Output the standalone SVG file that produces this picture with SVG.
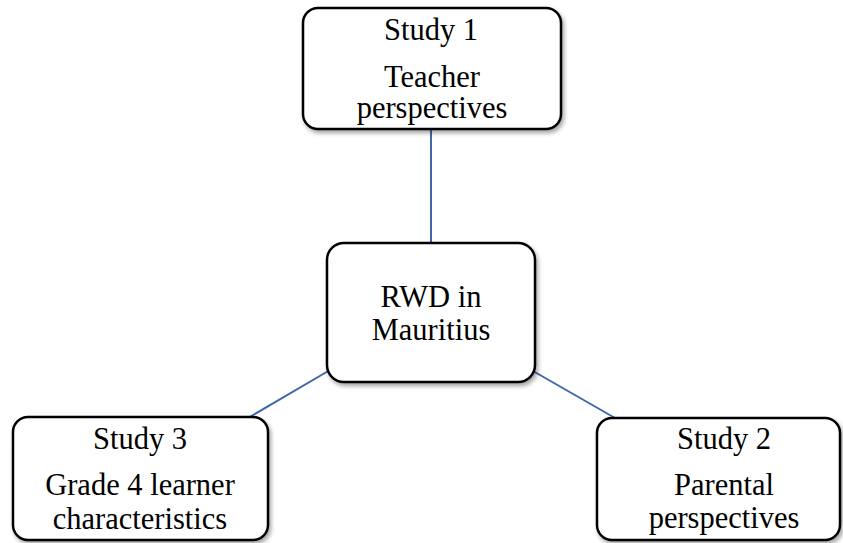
<svg xmlns="http://www.w3.org/2000/svg" width="843" height="543" viewBox="0 0 843 543">
<defs>
<filter id="sh" x="-10%" y="-10%" width="125%" height="130%">
<feDropShadow dx="2" dy="3" stdDeviation="2" flood-color="#000" flood-opacity="0.35"/>
</filter>
<style>
.box{fill:#fff;stroke:#000;stroke-width:2.5;filter:url(#sh)}
.t{font-family:"Liberation Serif","Times New Roman",serif;font-size:30.5px;fill:#000;text-anchor:middle}
.c{stroke:#4169aa;stroke-width:2;fill:none}
</style>
</defs>
<rect width="843" height="543" fill="#fff"/>
<g id="connectors">
<line class="c" x1="431" y1="130" x2="431" y2="243"/>
<line class="c" x1="330" y1="370" x2="248" y2="418"/>
<line class="c" x1="533" y1="371" x2="615" y2="418"/>
</g>
<g id="study1">
<rect class="box" x="303" y="8" width="258" height="121" rx="15"/>
<text class="t" x="431" y="40">Study 1</text>
<text class="t" x="432" y="87">Teacher</text>
<text class="t" x="432" y="118">perspectives</text>
</g>
<g id="center">
<rect class="box" x="327" y="243" width="208" height="139" rx="17"/>
<text class="t" x="431" y="307">RWD in</text>
<text class="t" x="431" y="340">Mauritius</text>
</g>
<g id="study3">
<rect class="box" x="13" y="417" width="255" height="123" rx="15"/>
<text class="t" x="140" y="449">Study 3</text>
<text class="t" x="140" y="495">Grade 4 learner</text>
<text class="t" x="140" y="529">characteristics</text>
</g>
<g id="study2">
<rect class="box" x="597" y="418" width="243" height="122" rx="15"/>
<text class="t" x="724" y="449">Study 2</text>
<text class="t" x="724" y="495">Parental</text>
<text class="t" x="724" y="528">perspectives</text>
</g>
</svg>
